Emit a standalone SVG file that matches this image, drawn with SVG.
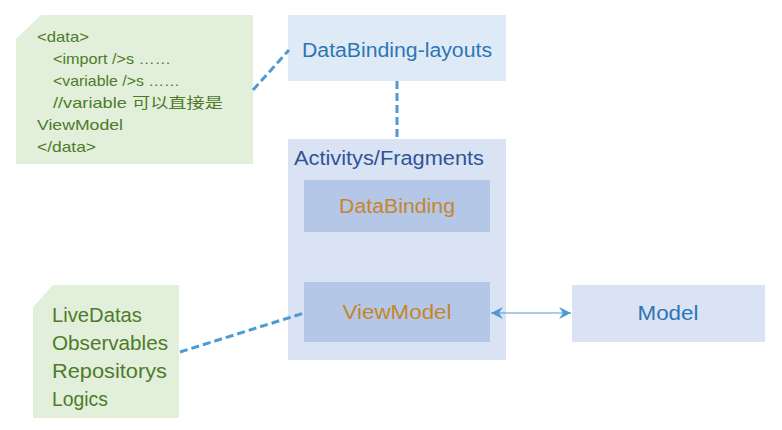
<svg xmlns="http://www.w3.org/2000/svg" width="782" height="430" viewBox="0 0 782 430">
<style>
  text { font-family: "Liberation Sans", "Noto Sans CJK SC", sans-serif; }
  .note { fill: #e2efda; }
  .notetxt { fill: #4e7b2b; font-size: 14.5px; }
  .notetxt2 { fill: #4e7b2b; font-size: 20.5px; }
  .lay { fill: #deebf7; }
  .box { fill: #dae3f3; }
  .inner { fill: #b4c7e7; }
  .blue { fill: #2e75b6; font-size: 20px; text-anchor: middle; }
  .orange { fill: #c5862b; font-size: 20px; text-anchor: middle; }
  .dash { stroke: #4e9ad4; stroke-width: 3; stroke-dasharray: 8 4; fill: none; }
</style>
<defs>
  <marker id="ah" viewBox="0 0 12 12" refX="12" refY="6" markerWidth="12" markerHeight="12" markerUnits="userSpaceOnUse" orient="auto-start-reverse">
    <path d="M0,0 L12,6 L0,12 L4,6 Z" fill="#4e9ad4"/>
  </marker>
</defs>
<rect width="782" height="430" fill="#ffffff"/>

<g id="note-data">
  <path class="note" d="M41,15 L253,15 L253,164 L16,164 L16,39 Z"/>
  <text class="notetxt" x="37" y="42" textLength="52" lengthAdjust="spacingAndGlyphs">&lt;data&gt;</text>
  <text class="notetxt" x="53" y="64" textLength="118" lengthAdjust="spacingAndGlyphs">&lt;import /&gt;s ……</text>
  <text class="notetxt" x="53" y="86" textLength="127" lengthAdjust="spacingAndGlyphs">&lt;variable /&gt;s ……</text>
  <text class="notetxt" x="53" y="108" textLength="170" lengthAdjust="spacingAndGlyphs">//variable 可以直接是</text>
  <text class="notetxt" x="37" y="130" textLength="86" lengthAdjust="spacingAndGlyphs">ViewModel</text>
  <text class="notetxt" x="37" y="152" textLength="59" lengthAdjust="spacingAndGlyphs">&lt;/data&gt;</text>
</g>

<g id="databinding-layouts">
  <rect class="lay" x="288" y="15" width="218" height="66"/>
  <text class="blue" x="397" y="57" textLength="190" lengthAdjust="spacingAndGlyphs">DataBinding-layouts</text>
</g>

<g id="activitys-fragments">
  <rect class="box" x="288" y="139" width="218" height="221"/>
  <text x="294" y="165" fill="#2f5597" font-size="20" textLength="190" lengthAdjust="spacingAndGlyphs">Activitys/Fragments</text>
</g>

<g id="databinding">
  <rect class="inner" x="304" y="180" width="186" height="52"/>
  <text class="orange" x="397" y="213" textLength="116" lengthAdjust="spacingAndGlyphs">DataBinding</text>
</g>

<g id="viewmodel">
  <rect class="inner" x="304" y="282" width="186" height="60"/>
  <text class="orange" x="397" y="319" textLength="109" lengthAdjust="spacingAndGlyphs">ViewModel</text>
</g>

<g id="model">
  <rect class="box" x="572" y="285" width="193" height="57"/>
  <text class="blue" x="668" y="320" textLength="61" lengthAdjust="spacingAndGlyphs">Model</text>
</g>

<g id="note-livedatas">
  <path class="note" d="M53,285 L179,285 L179,418 L33,418 L33,307 Z"/>
  <text class="notetxt2" x="52" y="322" textLength="90" lengthAdjust="spacingAndGlyphs">LiveDatas</text>
  <text class="notetxt2" x="52" y="350" textLength="116" lengthAdjust="spacingAndGlyphs">Observables</text>
  <text class="notetxt2" x="52" y="378" textLength="115" lengthAdjust="spacingAndGlyphs">Repositorys</text>
  <text class="notetxt2" x="52" y="406" textLength="56" lengthAdjust="spacingAndGlyphs">Logics</text>
</g>

<g id="connectors">
  <line class="dash" x1="253" y1="90" x2="289" y2="50"/>
  <line class="dash" x1="397" y1="81" x2="397" y2="139"/>
  <line class="dash" x1="180" y1="352" x2="304" y2="313"/>
  <line x1="491" y1="313" x2="571" y2="313" stroke="#4e9ad4" stroke-width="1.2" marker-start="url(#ah)" marker-end="url(#ah)"/>
</g>
</svg>
